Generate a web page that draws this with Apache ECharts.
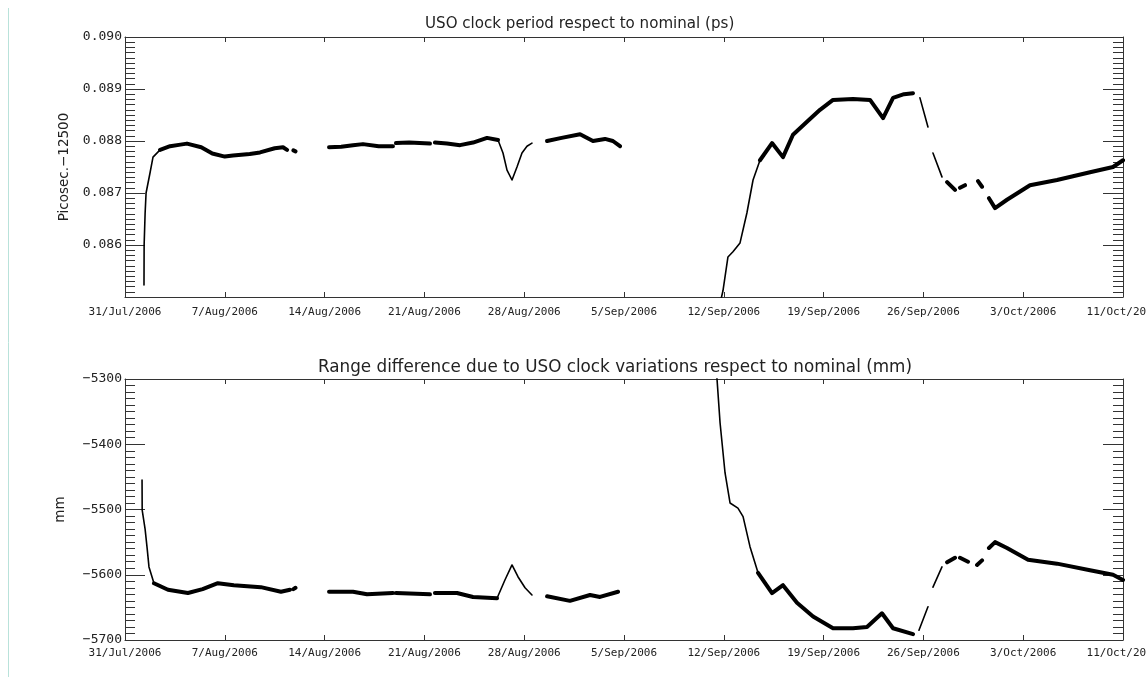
<!DOCTYPE html>
<html>
<head>
<meta charset="utf-8">
<title>USO clock</title>
<script src="https://cdn.jsdelivr.net/npm/echarts@6/dist/echarts.min.js"></script>
<style>
  html, body { margin: 0; padding: 0; background: #ffffff; }
  #chart { width: 1147px; height: 677px; }
</style>
</head>
<body>
<div id="chart"></div>
<script>
// Days since 31/Jul/2006 00:00 on the x axis; tick every 7.2 days.
const dateTicks = ['31/Jul/2006', '7/Aug/2006', '14/Aug/2006', '21/Aug/2006', '28/Aug/2006',
  '5/Sep/2006', '12/Sep/2006', '19/Sep/2006', '26/Sep/2006', '3/Oct/2006', '11/Oct/2006'];
const clockTicks = ['', '0.086', '0.087', '0.088', '0.089', '0.090'];
const rangeTicks = ['\u22125700', '\u22125600', '\u22125500', '\u22125400', '\u22125300'];

// USO clock period minus 12500 ps: smooth, densely sampled stretches
const clockFlat = [
  [[2.53,0.08783],[3.25,0.0879],[4.0,0.08793],[4.47,0.08795],[5.5,0.08788],[6.3,0.08776],[7.2,0.0877],[7.79,0.08772],[9.0,0.08775],[9.74,0.08778],[10.8,0.08786],[11.4,0.08788],[11.69,0.08783]],
  [[12.15,0.08782],[12.3,0.0878]],
  [[14.72,0.08788],[15.6,0.08789],[16.45,0.08792],[17.17,0.08794],[18.3,0.0879],[19.33,0.0879]],
  [[19.55,0.08796],[20.5,0.08797],[22.0,0.08795]],
  [[22.36,0.08797],[23.23,0.08795],[24.17,0.08792],[25.11,0.08797],[26.12,0.08806],[26.91,0.08802]],
  [[30.45,0.0880],[31.5,0.08806],[32.83,0.08813],[33.76,0.0880],[34.63,0.08804],[35.2,0.0880],[35.71,0.0879]],
  [[45.81,0.08763],[46.68,0.08796],[47.47,0.08769],[48.19,0.08812],[49.2,0.08837],[50.14,0.0886],[51.08,0.08879],[52.52,0.08881],[53.75,0.08879],[54.69,0.08844],[55.41,0.08883],[56.2,0.0889],[56.85,0.08892]],
  [[59.31,0.08721],[59.88,0.08706]],
  [[60.24,0.0871],[60.6,0.08715]],
  [[61.54,0.08723],[61.83,0.08712]],
  [[62.33,0.0869],[62.77,0.08671],[63.63,0.08687],[65.29,0.08715],[67.24,0.08725],[69.62,0.0874],[71.28,0.0875],[72.0,0.08763]]
];
// USO clock period: fast-changing stretches
const clockSteep = [
  [[1.37,0.08523],[1.38,0.0860],[1.45,0.0866],[1.52,0.0870],[1.8,0.08738],[2.02,0.08769],[2.53,0.08783]],
  [[26.91,0.08802],[27.27,0.08777],[27.56,0.08744],[27.92,0.08725],[28.28,0.0875],[28.64,0.08777],[29.0,0.0879],[29.36,0.08796]],
  [[42.95,0.0849],[43.14,0.08512],[43.5,0.08577],[43.86,0.08587],[44.37,0.08604],[44.87,0.08662],[45.31,0.08725],[45.81,0.08763]],
  [[57.35,0.08883],[57.93,0.08827]],
  [[58.29,0.08777],[58.94,0.08731]]
];

// Range difference (mm): smooth stretches
const rangeFlat = [
  [[2.09,-5613],[3.1,-5623],[4.54,-5628],[5.6,-5622],[6.7,-5613],[7.85,-5616],[9.8,-5619],[11.25,-5626],[11.9,-5623]],
  [[12.15,-5622],[12.3,-5620]],
  [[14.72,-5626],[16.45,-5626],[17.46,-5630],[19.33,-5628]],
  [[19.55,-5628],[22.0,-5630]],
  [[22.36,-5628],[23.95,-5628],[25.11,-5634],[26.84,-5636]],
  [[30.45,-5633],[32.1,-5640],[33.55,-5631],[34.27,-5634],[35.57,-5626]],
  [[45.67,-5597],[46.68,-5628],[47.47,-5616],[48.48,-5643],[49.64,-5664],[51.08,-5682],[52.52,-5682],[53.53,-5680],[54.61,-5659],[55.41,-5682],[56.85,-5691]],
  [[59.31,-5581],[59.88,-5574]],
  [[60.24,-5574],[60.82,-5580]],
  [[61.47,-5585],[61.83,-5578]],
  [[62.33,-5559],[62.77,-5550],[63.63,-5559],[65.15,-5577],[67.24,-5583],[69.62,-5593],[71.28,-5600],[72.0,-5608]]
];
// Range difference (mm): fast-changing stretches
const rangeSteep = [
  [[1.23,-5455],[1.24,-5501],[1.45,-5530],[1.6,-5560],[1.73,-5588],[2.09,-5613]],
  [[26.84,-5636],[27.41,-5608],[27.92,-5585],[28.35,-5603],[28.86,-5620],[29.36,-5631]],
  [[42.62,-5280],[42.71,-5300],[42.93,-5367],[43.29,-5444],[43.65,-5490],[44.22,-5498],[44.59,-5511],[45.09,-5557],[45.67,-5597]],
  [[57.28,-5685],[57.93,-5649]],
  [[58.29,-5619],[58.94,-5588]]
];

// Concatenate stretches with a break marker so gaps stay open.
function joinSegments(segs) {
  const out = [];
  segs.forEach((s, i) => {
    if (i) out.push([s[0][0], '-']);
    s.forEach(p => out.push(p));
  });
  return out;
}

const INK = '#000';
const FRAME = '#333';
const MONO = '"DejaVu Sans Mono", monospace';
const SANS = '"DejaVu Sans", sans-serif';

function xAxisPair(gi, labelMargin) {
  const base = {
    type: 'value', gridIndex: gi, min: 0, max: 72, interval: 7.2,
    axisLine: { show: true, onZero: false, lineStyle: { color: FRAME, width: 1 } },
    axisTick: { show: true, inside: true, length: 5, lineStyle: { color: FRAME } },
    splitLine: { show: false }
  };
  return [
    Object.assign({}, base, {
      position: 'bottom',
      axisLabel: {
        show: true, margin: labelMargin, color: '#222', fontFamily: MONO, fontSize: 11,
        formatter: v => dateTicks[Math.round(v / 7.2)] || ''
      }
    }),
    Object.assign({}, base, { position: 'top', axisLabel: { show: false } })
  ];
}

function yAxisPair(gi, min, max, step, labels, name, nameGap) {
  const base = {
    type: 'value', gridIndex: gi, min: min, max: max, interval: step,
    axisLine: { show: true, onZero: false, lineStyle: { color: FRAME, width: 1 } },
    axisTick: { show: true, inside: true, length: 20, lineStyle: { color: FRAME } },
    minorTick: { show: true, splitNumber: 10, length: 10, lineStyle: { color: FRAME } },
    splitLine: { show: false },
    minorSplitLine: { show: false }
  };
  return [
    Object.assign({}, base, {
      position: 'left',
      name: name, nameLocation: 'middle', nameGap: nameGap, nameRotate: 90,
      nameTextStyle: { color: '#222', fontFamily: SANS, fontSize: 13.5 },
      axisLabel: {
        show: true, margin: 3, color: '#222', fontFamily: MONO, fontSize: 13,
        formatter: v => labels[Math.round((v - min) / step)] || ''
      }
    }),
    Object.assign({}, base, { position: 'right', axisLabel: { show: false } })
  ];
}

function lineSeries(data, xi, yi, width) {
  return {
    type: 'line', xAxisIndex: xi, yAxisIndex: yi, data: data,
    showSymbol: false, symbol: 'none', connectNulls: false, clip: true,
    lineStyle: { color: INK, width: width, cap: 'round', join: 'round' },
    animation: false, silent: true
  };
}

const chart = echarts.init(document.getElementById('chart'), null, { renderer: 'canvas' });

chart.setOption({
  backgroundColor: '#ffffff',
  animation: false,
  title: [
    {
      text: 'USO clock period respect to nominal (ps)', left: 420, top: 12,
      textStyle: { color: '#222', fontFamily: SANS, fontSize: 15.1, fontWeight: 'normal' }
    },
    {
      text: 'Range difference due to USO clock variations respect to nominal (mm)', left: 313, top: 354,
      textStyle: { color: '#222', fontFamily: SANS, fontSize: 16.8, fontWeight: 'normal' }
    }
  ],
  grid: [
    { left: 125, top: 37, width: 998, height: 260, outerBoundsMode: 'none', containLabel: false },
    { left: 125, top: 379, width: 998, height: 261, outerBoundsMode: 'none', containLabel: false }
  ],
  xAxis: [].concat(xAxisPair(0, 10), xAxisPair(1, 8)),
  yAxis: [].concat(
    yAxisPair(0, 0.085, 0.090, 0.001, clockTicks, 'Picosec.\u221212500', 52),
    yAxisPair(1, -5700, -5300, 100, rangeTicks, 'mm', 58)
  ),
  series: [
    lineSeries(joinSegments(clockFlat), 0, 0, 4),
    lineSeries(joinSegments(clockSteep), 0, 0, 1.6),
    lineSeries(joinSegments(rangeFlat), 2, 2, 4),
    lineSeries(joinSegments(rangeSteep), 2, 2, 1.6)
  ],
  graphic: [
    {
      type: 'line', silent: true,
      shape: { x1: 8.5, y1: 8, x2: 8.5, y2: 677 },
      style: { stroke: '#b9e2da', lineWidth: 1 }
    }
  ]
});
</script>
</body>
</html>
